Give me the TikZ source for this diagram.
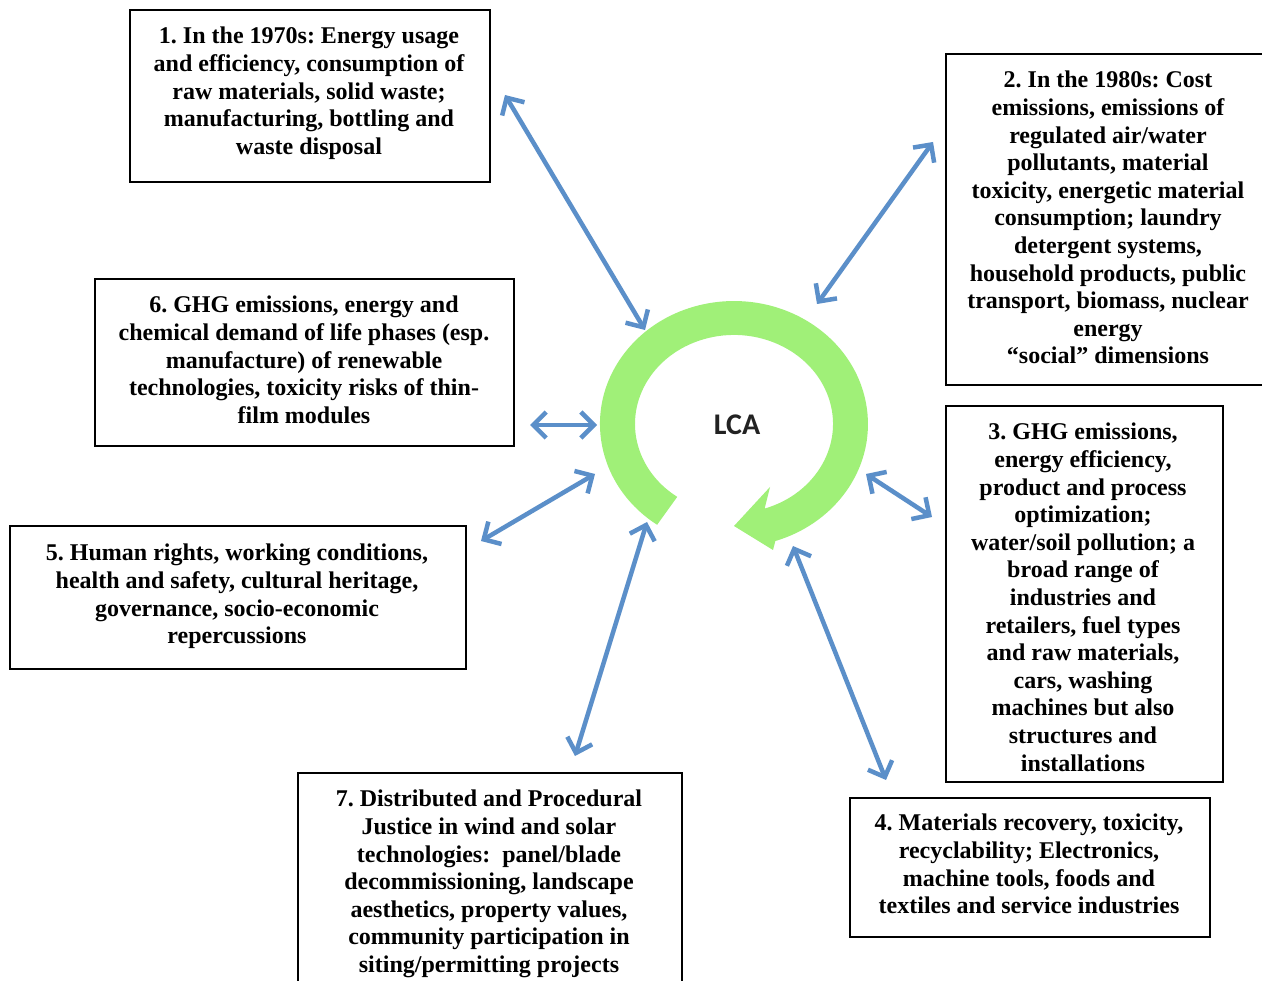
\documentclass[tikz,border=0pt]{standalone}
\usepackage{fontspec}
\setmainfont{Liberation Serif}
\newfontfamily\lcafont{Carlito}
\usetikzlibrary{arrows.meta}
\definecolor{arrowblue}{RGB}{91,143,201}
\definecolor{ringgreen}{RGB}{160,240,120}
\definecolor{lcagray}{RGB}{34,34,34}
\frenchspacing
\begin{document}
\begin{tikzpicture}[x=1pt,y=-1pt,
  boxline/.style={draw=black,line width=1.6pt,inner sep=0pt,anchor=north west},
  boxtext/.style={align=center,anchor=north,inner sep=0pt,font=\fontsize{24}{27.6}\selectfont\bfseries},
  link/.style={draw=arrowblue,line width=4.5pt,
    {Straight Barb[length=13pt,width=26pt]}-{Straight Barb[length=13pt,width=26pt]}}]
\clip (0,0) rectangle (1262,981);
\fill[white] (0,0) rectangle (1262,981);

% boxes
\node[boxline,minimum width=360pt,minimum height=172pt] (b1) at (129,9) {};
\node[boxline,minimum width=330pt,minimum height=331pt] (b2) at (945,53) {};
\node[boxline,minimum width=277pt,minimum height=376pt] (b3) at (945,405) {};
\node[boxline,minimum width=360pt,minimum height=139pt] (b4) at (849,797) {};
\node[boxline,minimum width=456pt,minimum height=143pt] (b5) at (9,525) {};
\node[boxline,minimum width=419pt,minimum height=167pt] (b6) at (94,278) {};
\node[boxline,minimum width=384pt,minimum height=240pt] (b7) at (297,772) {};

% texts
\node[boxtext] (t1) at (309,27) {1. In the 1970s: Energy usage\\and efficiency, consumption of\\raw materials, solid waste;\\manufacturing, bottling and\\waste disposal};
\node[boxtext] (t2) at (1108,71) {2. In the 1980s: Cost\\emissions, emissions of\\regulated air/water\\pollutants, material\\toxicity, energetic material\\consumption; laundry\\detergent systems,\\household products, public\\transport, biomass, nuclear\\energy\\“social” dimensions};
\node[boxtext] (t3) at (1083,423) {3. GHG emissions,\\energy efficiency,\\product and process\\optimization;\\water/soil pollution; a\\broad range of\\industries and\\retailers, fuel types\\and raw materials,\\cars, washing\\machines but also\\structures and\\installations};
\node[boxtext] (t4) at (1029,814) {4. Materials recovery, toxicity,\\recyclability; Electronics,\\machine tools, foods and\\textiles and service industries};
\node[boxtext] (t5) at (237,544) {5. Human rights, working conditions,\\health and safety, cultural heritage,\\governance, socio-economic\\repercussions};
\node[boxtext] (t6) at (304,296) {6. GHG emissions, energy and\\chemical demand of life phases (esp.\\manufacture) of renewable\\technologies, toxicity risks of thin-\\film modules};
\node[boxtext] (t7) at (489,790) {7. Distributed and Procedural\\Justice in wind and solar\\technologies:\ \ panel/blade\\decommissioning, landscape\\aesthetics, property values,\\community participation in\\siting/permitting projects};

% ring
\fill[ringgreen] (657.1,524.8) arc[start angle=125,end angle=432,x radius=134,y radius=123]
  -- (773,550) -- (734,526) -- (770,487) -- (764.6,508.6)
  arc[start angle=432,end angle=125,x radius=99,y radius=89] -- cycle;
\node[font=\lcafont\bfseries\fontsize{30}{36}\selectfont,text=lcagray,inner sep=0pt] (lca) at (737,425) {LCA};

% arrow ends
\coordinate (a1o) at (505,95);  \coordinate (a1i) at (645,330);
\coordinate (a2o) at (933,142); \coordinate (a2i) at (817,304);
\coordinate (a3o) at (932,517); \coordinate (a3i) at (866,474);
\coordinate (a4o) at (886,780); \coordinate (a4i) at (793,546);
\coordinate (a7o) at (575,756); \coordinate (a7i) at (647,522);
\coordinate (a5o) at (481,541); \coordinate (a5i) at (595,474);
\coordinate (a6o) at (530,425); \coordinate (a6i) at (597,425);

\draw[link] (a1o) -- (a1i);
\draw[link] (a2o) -- (a2i);
\draw[link] (a3o) -- (a3i);
\draw[link] (a4o) -- (a4i);
\draw[link] (a7o) -- (a7i);
\draw[link] (a5o) -- (a5i);
\draw[link] (a6o) -- (a6i);
\end{tikzpicture}
\end{document}
